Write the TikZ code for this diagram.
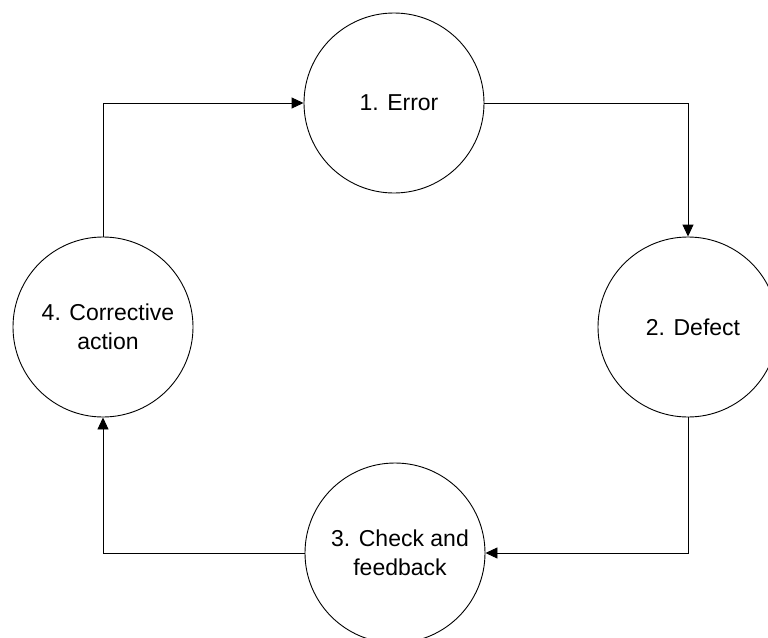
\documentclass[tikz,border=0pt]{standalone}
\usepackage{fontspec}
\setmainfont{Liberation Sans}
\usetikzlibrary{arrows.meta}
\begin{document}
\begin{tikzpicture}[x=1pt,y=-1pt,
  stage/.style={draw=black,line width=0.9pt,circle,minimum size=180pt,inner sep=0pt,fill=white},
  lbl/.style={font=\fontsize{23}{29}\selectfont,align=center,inner sep=0pt,xshift=5pt},
  link/.style={draw=black,line width=0.9pt,-{Triangle[length=12pt,width=11pt]}}]
\useasboundingbox (0,0) rectangle (768,637);
\clip (0,0) rectangle (768,637);
\fill[white] (0,0) rectangle (768,637);
\node[stage] (c1) at (394,103) {};
\node[stage] (c2) at (688,327) {};
\node[stage] (c3) at (395,553) {};
\node[stage] (c4) at (103,327) {};
\node[lbl] (t1) at (c1) {1. Error};
\node[lbl] (t2) at (c2) {2. Defect};
\node[lbl] (t3) at (c3) {3. Check and\\feedback};
\node[lbl] (t4) at (c4) {4. Corrective\\action};
\draw[link] (c4.north) |- (c1.west);
\draw[link] (c1.east) -| (c2.north);
\draw[link] (c2.south) |- (c3.east);
\draw[link] (c3.west) -| (c4.south);
\end{tikzpicture}
\end{document}
